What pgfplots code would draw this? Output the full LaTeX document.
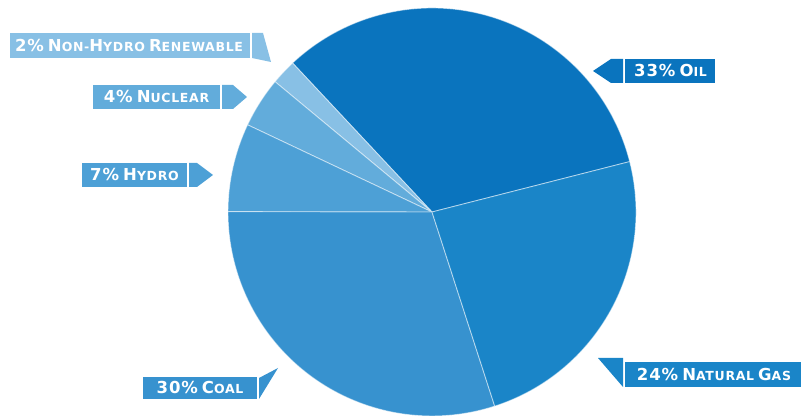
\documentclass[border=0pt]{standalone}
\usepackage{pgfplots}
\pgfplotsset{compat=1.18}
\usepackage{pgfplotstable}
\usepackage{fontspec}
\setmainfont{DejaVu Sans}
\newfontfamily\lab{DejaVu Sans}[LetterSpace=5.5]

\definecolor{cOil}{HTML}{0A74BE}
\definecolor{cGas}{HTML}{1A85C8}
\definecolor{cCoal}{HTML}{3792CF}
\definecolor{cHydro}{HTML}{4DA0D6}
\definecolor{cNuc}{HTML}{62ACDB}
\definecolor{cRen}{HTML}{88C0E5}

\newcommand\bigc[1]{{\fontsize{16.5}{16.5}\selectfont #1}}
\newcommand\smc[1]{{\fontsize{12.5}{12.5}\selectfont #1}}

% share of energy source (%), counter-clockwise from the Oil slice
\pgfplotstableread{
value color
33 cOil
2 cRen
4 cNuc
7 cHydro
30 cCoal
24 cGas
}\piedata

\begin{document}
\begin{tikzpicture}
\begin{axis}[
  scale only axis, width=801pt, height=417pt,
  xmin=0, xmax=801, ymin=0, ymax=417,
  hide axis, clip=false,
]
\xdef\curang{14.3}
\foreach \i in {0,...,5}{
  \pgfplotstablegetelem{\i}{value}\of\piedata
  \let\val\pgfplotsretval
  \pgfplotstablegetelem{\i}{color}\of\piedata
  \let\col\pgfplotsretval
  \pgfmathsetmacro\endang{\curang+3.6*\val}
  \edef\temp{\noexpand\fill[fill=\col, draw=white, draw opacity=0.5, line width=0.9pt, line join=round]
    (axis cs:432,205) -- ++(\curang:204pt) arc[start angle=\curang, end angle=\endang, radius=204pt] -- cycle;}
  \temp
  \xdef\curang{\endang}
}

% labels
\begin{scope}[every node/.style={text=white, inner sep=0pt, anchor=base, font=\lab\bfseries}]
% Non-hydro renewable
\fill[cRen] (axis cs:10,359) rectangle (axis cs:250,384);
\fill[cRen] (axis cs:252,384) -- (axis cs:263,384) -- (axis cs:271,355) -- (axis cs:252,359) -- cycle;
\node at (axis cs:129,365.5) {\bigc{2\%} \bigc{N}\smc{ON-}\bigc{H}\smc{YDRO} \bigc{R}\smc{ENEWABLE}};
% Nuclear
\fill[cNuc] (axis cs:93,308) rectangle (axis cs:220,332);
\fill[cNuc] (axis cs:222,332) -- (axis cs:233,332) -- (axis cs:247,320) -- (axis cs:233,308) -- (axis cs:222,308) -- cycle;
\node at (axis cs:156.5,314) {\bigc{4\%} \bigc{N}\smc{UCLEAR}};
% Hydro
\fill[cHydro] (axis cs:82,230) rectangle (axis cs:187,254);
\fill[cHydro] (axis cs:189,254) -- (axis cs:197,254) -- (axis cs:213,242) -- (axis cs:197,230) -- (axis cs:189,230) -- cycle;
\node at (axis cs:134.5,236) {\bigc{7\%} \bigc{H}\smc{YDRO}};
% Coal
\fill[cCoal] (axis cs:143,18) rectangle (axis cs:257,40);
\fill[cCoal] (axis cs:259,39) -- (axis cs:278,49) -- (axis cs:259,18) -- cycle;
\node at (axis cs:200,23) {\bigc{30\%} \bigc{C}\smc{OAL}};
% Oil
\fill[cOil] (axis cs:625,334) rectangle (axis cs:715,358);
\fill[cOil] (axis cs:623,358) -- (axis cs:611,358) -- (axis cs:593,346) -- (axis cs:611,334) -- (axis cs:623,334) -- cycle;
\node at (axis cs:670.5,340) {\bigc{33\%} \bigc{O}\smc{IL}};
% Natural gas
\fill[cGas] (axis cs:625,30) rectangle (axis cs:801,55);
\fill[cGas] (axis cs:598,59) -- (axis cs:623,59) -- (axis cs:623,30) -- cycle;
\node at (axis cs:714,36) {\bigc{24\%} \bigc{N}\smc{ATURAL} \bigc{G}\smc{AS}};
\end{scope}
\end{axis}
\pgfresetboundingbox
\path (0,0) rectangle (801pt,417pt);
\end{tikzpicture}
\end{document}
